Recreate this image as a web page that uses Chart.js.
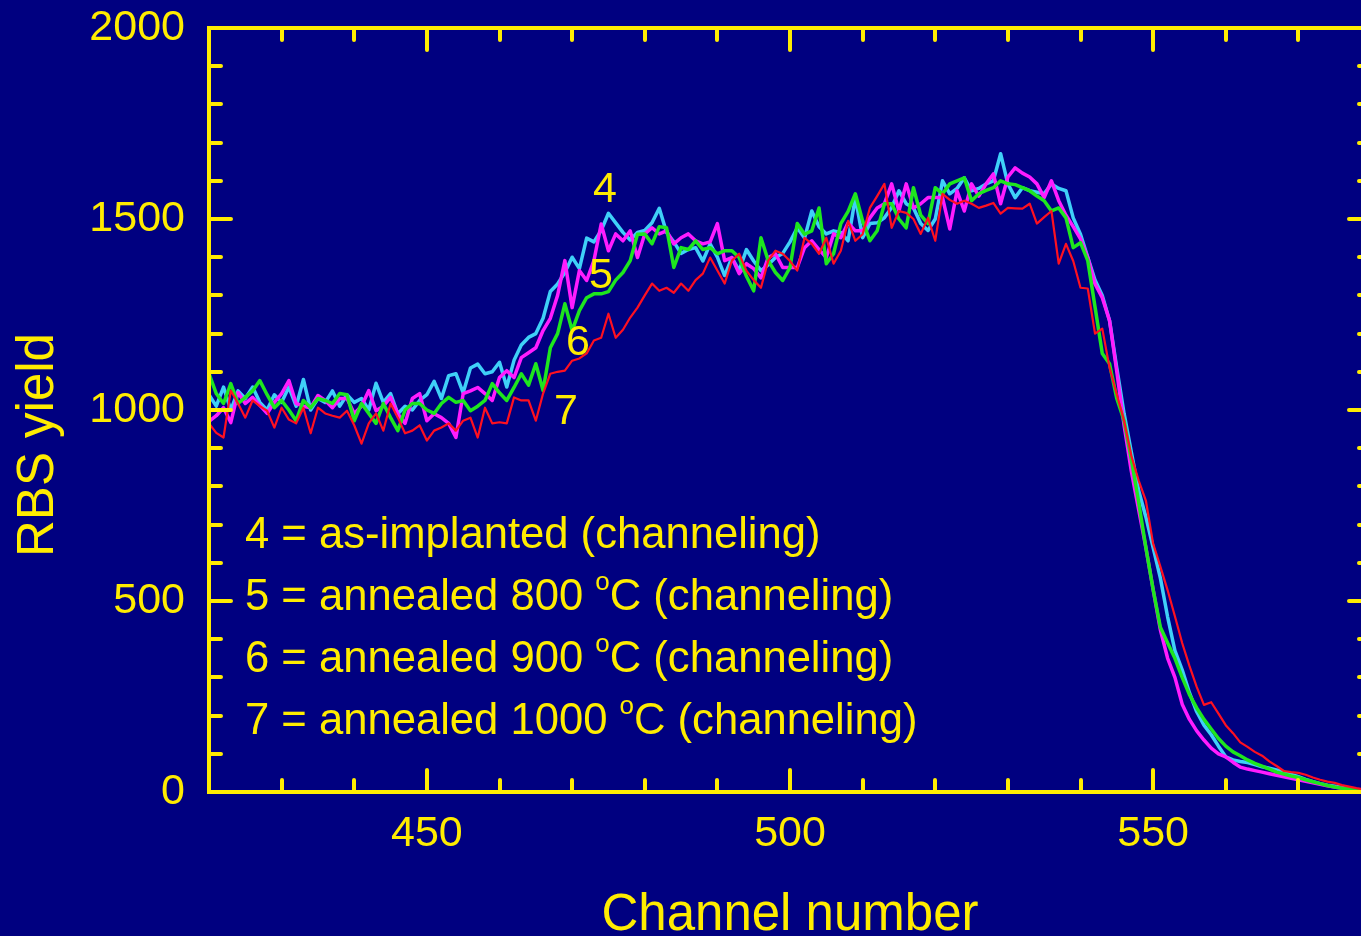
<!DOCTYPE html>
<html><head><meta charset="utf-8">
<script src="https://cdn.jsdelivr.net/npm/chart.js@4.4.1/dist/chart.umd.min.js"></script>
<style>
html,body{margin:0;padding:0;background:#000080;overflow:hidden;width:1361px;height:936px}
#wrap{position:absolute;left:0;top:0;width:1400px;height:936px}
canvas{display:block}
</style></head><body>
<div id="wrap"><canvas id="c" width="1400" height="936"></canvas></div>
<script>
// ---- data ----
const channels = [
420,421,422,423,424,425,426,427,428,429,430,431,432,433,434,435,436,437,438,439,
440,441,442,443,444,445,446,447,448,449,450,451,452,453,454,455,456,457,458,459,
460,461,462,463,464,465,466,467,468,469,470,471,472,473,474,475,476,477,478,479,
480,481,482,483,484,485,486,487,488,489,490,491,492,493,494,495,496,497,498,499,
500,501,502,503,504,505,506,507,508,509,510,511,512,513,514,515,516,517,518,519,
520,521,522,523,524,525,526,527,528,529,530,531,532,533,534,535,536,537,538,539,
540,541,542,543,544,545,546,547,548,549,550,551,552,553,554,555,556,557,558,559,
560,561,562,563,564,565,566,567,568,569,570,571,572,573,574,575,576,577,578,579,580];

const yieldAsImplanted = [
1040,1010,1060,1000,1050,1030,1060,1020,1000,1040,
1020,1060,1010,1080,1000,1030,1020,1050,1010,1040,
1020,1030,1000,1070,1020,1043,990,1010,1000,1025,
1040,1075,1030,1090,1095,1045,1110,1120,1095,1100,
1125,1060,1130,1170,1190,1200,1240,1310,1330,1360,
1400,1370,1450,1440,1470,1515,1490,1465,1445,1465,
1470,1490,1528,1465,1440,1410,1420,1425,1390,1435,
1400,1352,1399,1365,1420,1390,1365,1380,1399,1410,
1440,1477,1450,1521,1480,1461,1469,1465,1443,1556,
1451,1488,1490,1503,1530,1574,1540,1529,1488,1470,
1500,1600,1566,1580,1608,1574,1580,1592,1600,1671,
1592,1556,1582,1574,1570,1566,1592,1580,1574,1503,
1460,1400,1340,1300,1234,1110,991,890,790,720,
640,560,458,370,320,260,210,175,150,120,
92,84,80,77,72,66,62,58,52,46,
40,33,27,22,18,15,12,9,6,4,3];

const yield800C = [
970,985,1006,967,1046,1017,1033,1012,991,1020,
1043,1077,1017,1010,1006,1038,1025,1006,1030,1030,
991,1010,1051,998,1010,1033,990,965,1030,1043,
972,990,980,965,928,1043,1050,1059,1043,1025,
1085,1103,1085,1137,1150,1163,1208,1240,1300,1391,
1268,1365,1339,1391,1487,1417,1461,1443,1469,1399,
1461,1477,1461,1469,1435,1451,1461,1443,1435,1440,
1488,1391,1399,1357,1383,1370,1346,1399,1409,1373,
1373,1373,1425,1443,1420,1399,1461,1451,1490,1469,
1469,1503,1529,1540,1592,1521,1592,1529,1540,1556,
1556,1556,1474,1574,1521,1592,1560,1592,1618,1540,
1610,1634,1620,1610,1592,1556,1600,1548,1510,1480,
1448,1399,1330,1294,1234,1100,960,840,740,640,
530,424,350,300,230,190,160,136,115,100,
92,78,65,60,56,52,48,44,40,36,
32,28,24,20,16,13,10,8,6,4,3];

const yield900C = [
1095,1043,1017,1069,1017,1033,1050,1077,1040,1006,
1025,1000,972,1025,1006,1030,1025,1017,1043,1040,
972,1017,991,965,1017,980,946,1000,1017,1017,
1000,991,1017,1033,1020,1025,998,1010,1025,1069,
1045,1025,1059,1095,1065,1121,1051,1163,1200,1278,
1208,1260,1294,1304,1304,1310,1340,1360,1391,1460,
1461,1435,1480,1477,1373,1425,1420,1443,1420,1425,
1409,1417,1417,1399,1350,1312,1451,1391,1360,1339,
1373,1488,1460,1469,1529,1383,1409,1488,1520,1566,
1495,1443,1469,1540,1540,1500,1477,1582,1510,1488,
1582,1566,1592,1600,1608,1548,1566,1575,1582,1600,
1592,1590,1582,1574,1560,1548,1521,1529,1503,1425,
1438,1391,1270,1148,1121,1030,972,870,760,640,
530,431,390,350,300,255,220,190,165,140,
120,105,95,84,75,68,60,52,47,42,
38,32,27,22,17,13,10,8,6,4,3];

const yield1000C = [
965,940,928,1051,1017,980,1025,1010,998,954,
1006,975,965,1006,939,1006,991,985,980,998,
960,912,965,991,946,1017,980,939,946,960,
920,946,954,965,946,972,980,928,1006,965,
968,965,1033,1025,1025,972,1043,1095,1100,1103,
1129,1135,1148,1182,1189,1252,1189,1210,1242,1268,
1300,1331,1312,1320,1307,1331,1312,1340,1357,1399,
1365,1331,1391,1409,1365,1340,1320,1391,1417,1409,
1390,1365,1451,1435,1409,1451,1383,1417,1495,1443,
1460,1529,1560,1592,1477,1521,1516,1500,1461,1503,
1443,1566,1550,1540,1548,1540,1529,1535,1542,1514,
1529,1528,1527,1540,1488,1505,1521,1383,1435,1390,
1320,1318,1200,1213,1111,1040,972,880,816,763,
650,590,528,460,390,330,275,228,235,205,
175,154,130,118,105,95,80,68,55,52,
50,45,38,32,27,24,18,14,10,7,4];

const xTickLabels = [450, 500, 550];
const yTickLabels = [0, 500, 1000, 1500, 2000];
const curveNumbers = ['4', '5', '6', '7'];
const legendPrefix = ['4 = as-implanted (channeling)', '5 = annealed 800 ', '6 = annealed 900 ', '7 = annealed 1000 '];
const legendSuffix = ['', 'C (channeling)', 'C (channeling)', 'C (channeling)'];
const axisTitleX = 'Channel number';
const axisTitleY = 'RBS yield';

// ---- styles ----
const YELLOW = '#ffec00';
const FONT = '"Liberation Sans", Arial, sans-serif';
const COLORS = ['#3fd0f8', '#ff1cff', '#1ee61e', '#ff1020'];

function pts(vals) { return vals.map((v, i) => ({x: channels[i], y: v})); }

const decor = {
  id: 'decor',
  afterDatasetsDraw(chart) {
    const {ctx, chartArea: a} = chart;
    const xs = chart.scales.x, ys = chart.scales.y;
    ctx.save();
    ctx.strokeStyle = YELLOW;
    ctx.lineWidth = 4;
    ctx.lineCap = 'round';
    xs.ticks.forEach(t => {
      const v = t.value;
      const len = (v % 50 === 0) ? 22 : 12;
      const p = Math.round(xs.getPixelForValue(v));
      ctx.beginPath();
      ctx.moveTo(p, a.bottom); ctx.lineTo(p, a.bottom - len);
      ctx.moveTo(p, a.top); ctx.lineTo(p, a.top + len);
      ctx.stroke();
    });
    ys.ticks.forEach(t => {
      const v = t.value;
      const len = (v % 500 === 0) ? 22 : 12;
      const p = Math.round(ys.getPixelForValue(v));
      ctx.beginPath();
      ctx.moveTo(a.left, p); ctx.lineTo(a.left + len, p);
      ctx.moveTo(a.right, p); ctx.lineTo(a.right - len, p);
      ctx.stroke();
    });
    ctx.lineCap = 'butt';
    ctx.strokeRect(a.left, a.top, a.right - a.left, a.bottom - a.top);

    ctx.fillStyle = YELLOW;
    // curve numbers
    ctx.font = '43px ' + FONT;
    ctx.textAlign = 'center';
    ctx.textBaseline = 'alphabetic';
    const numPos = [[605, 202], [601, 288], [578, 355], [566, 424]];
    curveNumbers.forEach((s, i) => ctx.fillText(s, numPos[i][0], numPos[i][1]));

    // legend text
    ctx.textAlign = 'left';
    const baseY = [548, 610, 672, 734];
    const LF = '43.6px ' + FONT;
    legendPrefix.forEach((s, i) => {
      ctx.font = LF;
      let x = 245;
      ctx.fillText(s, x, baseY[i]);
      if (legendSuffix[i]) {
        x += ctx.measureText(s).width;
        ctx.font = '26px ' + FONT;
        ctx.fillText('o', x, baseY[i] - 20);
        x += ctx.measureText('o').width;
        ctx.font = LF;
        ctx.fillText(legendSuffix[i], x, baseY[i]);
      }
    });

    // axis titles
    ctx.font = '51px ' + FONT;
    ctx.textAlign = 'center';
    ctx.fillText(axisTitleX, (a.left + a.right) / 2, 930);
    ctx.translate(53, 445);
    ctx.rotate(-Math.PI / 2);
    ctx.fillText(axisTitleY, 0, 0);
    ctx.restore();
  }
};

new Chart(document.getElementById('c'), {
  type: 'line',
  data: {
    datasets: [
      {label: legendPrefix[3], data: pts(yield1000C), borderColor: COLORS[3], borderWidth: 2.2, order: 0},
      {label: legendPrefix[2], data: pts(yield900C), borderColor: COLORS[2], borderWidth: 3.5, order: 1},
      {label: legendPrefix[1], data: pts(yield800C), borderColor: COLORS[1], borderWidth: 3.5, order: 2},
      {label: legendPrefix[0], data: pts(yieldAsImplanted), borderColor: COLORS[0], borderWidth: 3.5, order: 3}
    ].map(d => Object.assign(d, {pointRadius: 0, tension: 0, fill: false, borderJoinStyle: 'round'}))
  },
  options: {
    responsive: false,
    animation: false,
    devicePixelRatio: 1,
    layout: {padding: {top: 28, right: 29, left: 0, bottom: 0}},
    plugins: {legend: {display: false}, tooltip: {enabled: false}},
    scales: {
      x: {
        type: 'linear', min: 420, max: 580,
        afterFit: s => { s.height = 144; s.paddingLeft = 0; s.paddingRight = 0; },
        grid: {display: false, drawTicks: false},
        border: {display: false},
        ticks: {
          stepSize: 10, autoSkip: false, maxRotation: 0, padding: 16,
          color: YELLOW, font: {family: FONT, size: 43},
          callback: v => xTickLabels.includes(v) ? String(v) : ''
        }
      },
      y: {
        type: 'linear', min: 0, max: 2000,
        afterFit: s => { s.width = 209; s.paddingTop = 0; s.paddingBottom = 0; },
        grid: {display: false, drawTicks: false},
        border: {display: false},
        ticks: {
          stepSize: 100, autoSkip: false, padding: 24,
          color: YELLOW, font: {family: FONT, size: 43},
          callback: v => yTickLabels.includes(v) ? String(v) : ''
        }
      }
    }
  },
  plugins: [decor]
});
</script>
</body></html>
